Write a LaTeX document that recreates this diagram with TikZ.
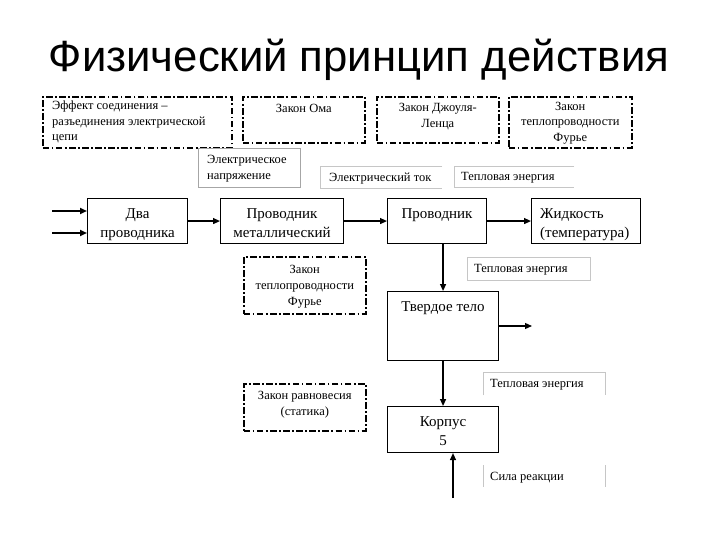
\documentclass[tikz,border=0pt]{standalone}
\usepackage{fontspec}
\setmainfont{Liberation Serif}
\newfontfamily\titlefont{Liberation Sans}
\usetikzlibrary{arrows.meta,positioning}
\tikzset{
  x=1pt, y=-1pt,
  smalltxt/.style={font=\fontsize{12.5}{16}\selectfont, inner sep=0pt, align=center},
  bigtxt/.style={font=\fontsize{15}{19}\selectfont, inner sep=0pt, align=center},
  mainbox/.style={draw=black, line width=1.1pt, anchor=north west, inner sep=0pt},
  lawbox/.style={draw=black, line width=1.6pt, anchor=north west, inner sep=0pt,
    dash pattern=on 6.5pt off 2.5pt on 1.6pt off 2.5pt},
  labbox/.style={draw=gray!70, line width=0.7pt, anchor=north west, inner sep=0pt},
  faint/.style={draw=gray!45, line width=0.6pt},
  arr/.style={line width=1.2pt, -{Triangle[length=7pt,width=6pt]}},
  inarr/.style={line width=1.9pt, -{Triangle[length=7pt,width=6pt]}}
}
\begin{document}
\begin{tikzpicture}
\useasboundingbox (0,0) rectangle (720,540);
% title
\node[font=\titlefont\fontsize{43.7}{48}\selectfont, anchor=base, inner sep=0pt] (title) at (359,72) {Физический принцип действия};

% law boxes (dash-dot)
\node[lawbox, minimum width=189pt, minimum height=51pt] (eff) at (42,96) {};
\node[smalltxt, font=\fontsize{12.5}{15.5}\selectfont, align=left, anchor=north west] (efft) at (52,101) {Эффект соединения –\\разъединения электрической\\цепи};
\node[lawbox, minimum width=122pt, minimum height=46pt] (ohm) at (242,96) {};
\node[smalltxt, anchor=north] (ohmt) at ([yshift=-8pt]ohm.north) {Закон Ома};
\node[lawbox, minimum width=122pt, minimum height=46pt] (joule) at (376,96) {};
\node[smalltxt, anchor=north] (joulet) at ([yshift=-7pt]joule.north) {Закон Джоуля-\\Ленца};
\node[lawbox, minimum width=123pt, minimum height=51pt] (four1) at (508,96) {};
\node[smalltxt, font=\fontsize{12.5}{15.5}\selectfont, anchor=north] (four1t) at ([yshift=-6pt]four1.north) {Закон\\теплопроводности\\Фурье};
\node[lawbox, minimum width=122pt, minimum height=57pt] (four2) at (243,256) {};
\node[smalltxt, anchor=north] (four2t) at ([yshift=-9pt]four2.north) {Закон\\теплопроводности\\Фурье};
\node[lawbox, minimum width=122pt, minimum height=47pt] (ravn) at (243,383) {};
\node[smalltxt, anchor=north] (ravnt) at ([yshift=-8pt]ravn.north) {Закон равновесия\\(статика)};

% label boxes
\node[labbox, minimum width=102pt, minimum height=39pt] (napr) at (198,148) {};
\node[smalltxt, align=left, anchor=north west] (naprt) at (207,155) {Электрическое\\напряжение};

\node[anchor=north west, minimum width=122pt, minimum height=22pt, inner sep=0pt] (tok) at (320,166) {};
\draw[faint] (tok.north east) -- (tok.north west) -- (tok.south west) -- (tok.south east);
\node[smalltxt, anchor=west] (tokt) at ([xshift=9pt,yshift=-1pt]tok.west) {Электрический ток};

\node[anchor=north west, minimum width=120pt, minimum height=21pt, inner sep=0pt] (te1) at (454,166) {};
\draw[faint] (te1.north east) -- (te1.north west) -- (te1.south west) -- (te1.south east);
\node[smalltxt, anchor=west] (te1t) at ([xshift=7pt,yshift=-1pt]te1.west) {Тепловая энергия};

\node[anchor=north west, minimum width=123pt, minimum height=23pt, inner sep=0pt] (te2) at (467,257) {};
\draw[faint] (te2.north west) rectangle (te2.south east);
\node[smalltxt, anchor=west] (te2t) at ([xshift=7pt,yshift=-1pt]te2.west) {Тепловая энергия};

\node[anchor=north west, minimum width=122pt, minimum height=23pt, inner sep=0pt] (te3) at (483,372) {};
\draw[faint] (te3.south west) -- (te3.north west) -- (te3.north east) -- (te3.south east);
\node[smalltxt, anchor=west] (te3t) at ([xshift=7pt,yshift=-1pt]te3.west) {Тепловая энергия};

\node[anchor=north west, minimum width=122pt, minimum height=22pt, inner sep=0pt] (sila) at (483,465) {};
\draw[faint] (sila.north west) -- (sila.south west);
\draw[faint] (sila.north east) -- (sila.south east);
\node[smalltxt, anchor=west] (silat) at ([xshift=7pt,yshift=-1pt]sila.west) {Сила реакции};

% main boxes
\node[mainbox, minimum width=100pt, minimum height=45pt] (dva) at (87,198) {};
\node[bigtxt, anchor=north] (dvat) at ([yshift=-10pt]dva.north) {Два\\проводника};
\node[mainbox, minimum width=123pt, minimum height=45pt] (met) at (220,198) {};
\node[bigtxt, anchor=north] (mett) at ([yshift=-10pt]met.north) {Проводник\\металлический};
\node[mainbox, minimum width=99pt, minimum height=45pt] (prov) at (387,198) {};
\node[bigtxt, anchor=north] (provt) at ([yshift=-10pt]prov.north) {Проводник};
\node[mainbox, minimum width=109pt, minimum height=45pt] (zh) at (531,198) {};
\node[bigtxt, align=left, anchor=north west] (zht) at ([xshift=9pt,yshift=-10pt]zh.north west) {Жидкость\\(температура)};
\node[mainbox, minimum width=111pt, minimum height=69pt] (tv) at (387,291) {};
\node[bigtxt, anchor=north] (tvt) at ([yshift=-10pt]tv.north) {Твердое тело};
\node[mainbox, minimum width=111pt, minimum height=46pt] (korp) at (387,406) {};
\node[bigtxt, anchor=north] (korpt) at ([yshift=-10pt]korp.north) {Корпус\\5};

% connectors
\coordinate (in1) at (52,211);
\coordinate (in2) at (52,233);
\draw[inarr] (in1) -- (in1 -| dva.west);
\draw[inarr] (in2) -- (in2 -| dva.west);
\draw[arr] (dva) -- (met);
\draw[arr] (met) -- (prov);
\draw[arr] (prov) -- (zh);
\draw[arr] (tv.north |- prov.south) -- (tv.north);
\coordinate (tvout) at (532,326);
\draw[arr] (tvout -| tv.east) -- (tvout);
\draw[arr] (tv.south) -- (korp.north);
\coordinate (force) at (453,498);
\draw[arr] (force) -- (force |- korp.south);
\end{tikzpicture}
\end{document}
